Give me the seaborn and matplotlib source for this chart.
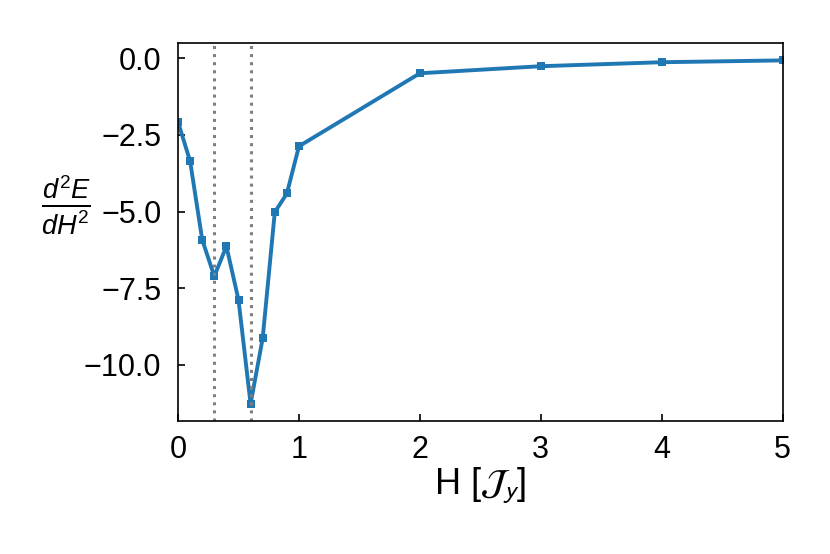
import numpy as np
import pandas as pd
import seaborn as sns
import matplotlib
matplotlib.use('Agg')
import matplotlib.pyplot as plt

# field values and second derivative
h_field = [0.0, 0.1, 0.2, 0.3, 0.4, 0.5, 0.6, 0.7, 0.8, 0.9, 1.0, 2.0, 3.0, 4.0, 5.0]
d2e = [-2.08, -3.36, -5.92, -7.11, -6.13, -7.88, -11.27, -9.13, -5.02, -4.41, -2.87,
       -0.49, -0.26, -0.13, -0.07]
# dotted markers
vlines = [0.3, 0.6]

df = pd.DataFrame({'H': h_field, 'd2E': d2e})

sns.set_theme(style="ticks", rc={'text.color': 'black', 'axes.labelcolor': 'black',
                                 'xtick.color': 'black', 'ytick.color': 'black',
                                 'axes.edgecolor': 'black'})
plt.rcParams['font.family'] = ['Liberation Sans', 'DejaVu Sans']
plt.rcParams['axes.unicode_minus'] = True
plt.rcParams['mathtext.fontset'] = 'custom'
plt.rcParams['mathtext.rm'] = 'Liberation Sans'
plt.rcParams['mathtext.it'] = 'Liberation Sans:italic'
plt.rcParams['xtick.direction'] = 'in'
plt.rcParams['ytick.direction'] = 'in'

fig, ax = plt.subplots(figsize=(8.3, 5.54), dpi=100)
fig.subplots_adjust(left=0.2145, right=0.943, top=0.922, bottom=0.24)

sns.lineplot(data=df, x='H', y='d2E', ax=ax, color='#1f77b4', linewidth=2.8,
             marker='s', markersize=6, markeredgewidth=0)
for v in vlines:
    ax.axvline(v, color='gray', linestyle=':', linewidth=2.2)

ax.set_xlim(0, 5)
ax.margins(y=0.05)
ax.set_xticks([0, 1, 2, 3, 4, 5])
ax.set_yticks([0.0, -2.5, -5.0, -7.5, -10.0])
ax.tick_params(labelsize=22, length=5, width=1.2)
ax.tick_params(axis='y', pad=12)
ax.tick_params(axis='x', pad=10)
for s in ax.spines.values():
    s.set_linewidth(1.2)

ax.set_xlabel(r'H [$\mathcal{J}_y$]', fontsize=26, labelpad=0, math_fontfamily='stixsans')
ax.set_ylabel(r'$\frac{d^2E}{dH^2}$', fontsize=28, rotation=0, va='center', ha='center')
ax.yaxis.set_label_coords(-0.185, 0.57)

plt.savefig('out.png', dpi=100)
